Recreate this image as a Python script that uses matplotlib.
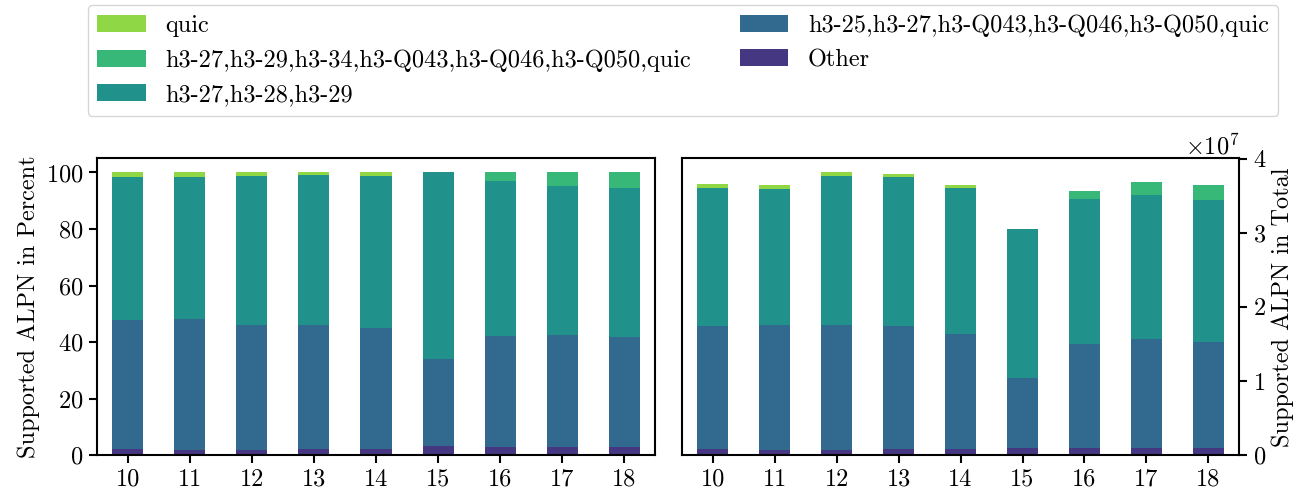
import numpy as np
import pandas as pd
import matplotlib
matplotlib.use("Agg")
import matplotlib.pyplot as plt

plt.rcParams["font.family"] = "serif"
plt.rcParams["font.serif"] = ["cmr10"]
plt.rcParams["mathtext.fontset"] = "cm"
plt.rcParams["axes.formatter.use_mathtext"] = True
plt.rcParams["font.size"] = 17.5

# Scan weeks
weeks = ["10", "11", "12", "13", "14", "15", "16", "17", "18"]

# Number of domains per supported ALPN set
other = [850000, 710000, 710000, 850000, 850000, 1020000, 1020000, 1020000, 1020000]
h3_25_q050 = [16570000, 16850000, 16850000, 16570000, 15490000, 9380000, 13960000, 14630000, 14230000]
h3_27_28_29 = [18560000, 18280000, 20030000, 20040000, 19640000, 20060000, 19520000, 19380000, 19110000]
h3_27_34_quic = [0, 0, 0, 0, 0, 0, 1070000, 1750000, 2020000]
quic_only = [540000, 540000, 540000, 400000, 400000, 0, 0, 0, 0]

labels = [
    "Other",
    "h3-25,h3-27,h3-Q043,h3-Q046,h3-Q050,quic",
    "h3-27,h3-28,h3-29",
    "h3-27,h3-29,h3-34,h3-Q043,h3-Q046,h3-Q050,quic",
    "quic",
]
colors = ["#453781", "#316a8e", "#21918c", "#37b878", "#8fd744"]

total = pd.DataFrame(
    {
        labels[0]: other,
        labels[1]: h3_25_q050,
        labels[2]: h3_27_28_29,
        labels[3]: h3_27_34_quic,
        labels[4]: quic_only,
    },
    index=weeks,
)
percent = total.div(total.sum(axis=1), axis=0) * 100

fig = plt.figure(figsize=(13.09, 4.97), dpi=100)
ax1 = fig.add_axes([0.0739, 0.0839, 0.4267, 0.5976])
ax2 = fig.add_axes([0.5208, 0.0839, 0.4260, 0.5976])

percent.plot.bar(stacked=True, ax=ax1, color=colors, width=0.5, legend=False, rot=0)
total.plot.bar(stacked=True, ax=ax2, color=colors, width=0.5, legend=False, rot=0)

ax1.set_ylabel("Supported ALPN in Percent")
ax1.set_xlabel("")
ax1.set_yticks([0, 20, 40, 60, 80, 100])

ax2.set_xlabel("")
ax2.yaxis.tick_right()
ax2.yaxis.set_label_position("right")
ax2.set_ylabel("Supported ALPN in Total")
ax2.set_yticks([0, 1e7, 2e7, 3e7, 4e7])

for ax in (ax1, ax2):
    for sp in ax.spines.values():
        sp.set_linewidth(1.5)
    ax.tick_params(width=1.5, length=6)

handles, labs = ax1.get_legend_handles_labels()
fig.legend(
    handles[::-1], labs[::-1],
    loc="upper center",
    bbox_to_anchor=(0.5218, 0.99),
    ncol=2,
    borderaxespad=0.0,
)

fig.savefig("out.png", dpi=100)
